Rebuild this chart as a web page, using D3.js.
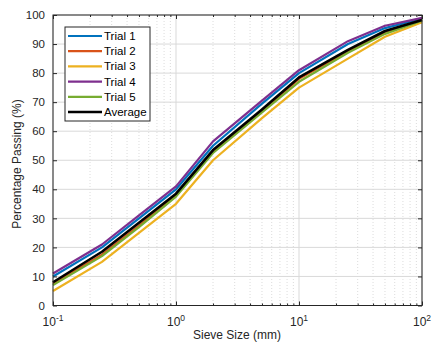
<!DOCTYPE html>
<html><head><meta charset="utf-8">
<script src="https://cdn.jsdelivr.net/npm/d3@7"></script>
<style>
body{margin:0;background:#fff;}
text{font-family:"Liberation Sans",Arial,sans-serif;}
</style></head>
<body>
<svg id="c" width="433" height="345"></svg>
<script>
const sieveSizes = [0.1, 0.25, 0.5, 1, 2, 5, 10, 25, 50, 100];
const trial1 = [10, 20, 30, 40, 55, 69.5, 80, 90, 95.5, 98.8];
const trial2 = [7.5, 17.5, 27.5, 38, 53, 67, 78, 87.5, 94, 98.3];
const trial3 = [5, 15, 25, 35, 50, 64.5, 75, 85, 92.5, 97.5];
const trial4 = [11, 21, 31, 41, 56.5, 70.5, 81, 91, 96.3, 99];
const trial5 = [7, 17, 27, 37.5, 52.5, 66.5, 77, 87, 93.5, 98];
const average = [8, 18.5, 28.5, 38.5, 53.5, 67.5, 78.5, 88, 94.5, 98.3];
const seriesNames = ["Trial 1", "Trial 2", "Trial 3", "Trial 4", "Trial 5", "Average"];
const seriesColors = ["#0072BD", "#D95319", "#EDB120", "#7E2F8E", "#77AC30", "#000000"];
const yTicks = [0,10,20,30,40,50,60,70,80,90,100];
const xTickExps = [-1, 0, 1, 2];

const allSeries = [trial1, trial2, trial3, trial4, trial5, average];
const svg = d3.select("#c");
const L = 53, R = 422, T = 15, B = 305.5;
const x = d3.scaleLog().domain([0.1, 100]).range([L, R]);
const y = d3.scaleLinear().domain([0, 100]).range([B, T]);
const txtCol = "#262626";

const g = svg.append("g");
// minor x grid
const minors = [];
for (let e = -1; e < 2; e++) for (let m = 2; m <= 9; m++) minors.push(m * Math.pow(10, e));
g.selectAll(".mg").data(minors).join("line")
  .attr("x1", d => x(d)).attr("x2", d => x(d)).attr("y1", T).attr("y2", B)
  .attr("stroke", "#dcdcdc").attr("stroke-width", 1).attr("stroke-dasharray", "1,2");
// major x grid
g.selectAll(".xg").data(xTickExps.map(e => Math.pow(10, e))).join("line")
  .attr("x1", d => x(d)).attr("x2", d => x(d)).attr("y1", T).attr("y2", B)
  .attr("stroke", "#d9d9d9").attr("stroke-width", 1);
// y grid
g.selectAll(".yg").data(yTicks).join("line")
  .attr("x1", L).attr("x2", R).attr("y1", d => y(d)).attr("y2", d => y(d))
  .attr("stroke", "#d9d9d9").attr("stroke-width", 1);

// lines
const line = d3.line().x((d, i) => x(sieveSizes[i])).y(d => y(d));
allSeries.forEach((s, k) => {
  svg.append("path").datum(s).attr("d", line).attr("fill", "none")
    .attr("stroke", seriesColors[k]).attr("stroke-width", k === 5 ? 2.6 : 2.2)
    .attr("stroke-linejoin", "round");
});

// axes box
svg.append("rect").attr("x", L).attr("y", T).attr("width", R - L).attr("height", B - T)
  .attr("fill", "none").attr("stroke", txtCol).attr("stroke-width", 1);

// ticks using d3 axes (inward)
const yAxisL = d3.axisLeft(y).tickValues(yTicks).tickSize(-4).tickPadding(8);
const yg = svg.append("g").attr("transform", `translate(${L},0)`).call(yAxisL);
yg.select(".domain").remove();
yg.selectAll("line").attr("stroke", txtCol);
yg.selectAll("text").attr("font-size", 11.5).attr("fill", txtCol).attr("font-family", "Liberation Sans, Arial, sans-serif");
const yAxisR = d3.axisRight(y).tickValues(yTicks).tickSize(-4).tickFormat("");
const yr = svg.append("g").attr("transform", `translate(${R},0)`).call(yAxisR);
yr.select(".domain").remove(); yr.selectAll("line").attr("stroke", txtCol);

const xMajor = xTickExps.map(e => Math.pow(10, e));
const xAxisB = d3.axisBottom(x).tickValues(xMajor).tickSize(-4).tickFormat("");
const xb = svg.append("g").attr("transform", `translate(0,${B})`).call(xAxisB);
xb.select(".domain").remove(); xb.selectAll("line").attr("stroke", txtCol);
const xMinB = d3.axisBottom(x).tickValues(minors).tickSize(-2).tickFormat("");
const xbm = svg.append("g").attr("transform", `translate(0,${B})`).call(xMinB);
xbm.select(".domain").remove(); xbm.selectAll("line").attr("stroke", txtCol);
const xAxisT = d3.axisTop(x).tickValues(xMajor).tickSize(-4).tickFormat("");
const xt = svg.append("g").attr("transform", `translate(0,${T})`).call(xAxisT);
xt.select(".domain").remove(); xt.selectAll("line").attr("stroke", txtCol);
const xMinT = d3.axisTop(x).tickValues(minors).tickSize(-2).tickFormat("");
const xtm = svg.append("g").attr("transform", `translate(0,${T})`).call(xMinT);
xtm.select(".domain").remove(); xtm.selectAll("line").attr("stroke", txtCol);

// x tick labels with superscripts
xTickExps.forEach(e => {
  const t = svg.append("text").attr("x", x(Math.pow(10, e))).attr("y", 326)
    .attr("text-anchor", "middle").attr("font-size", 12).attr("fill", txtCol);
  t.append("tspan").text("10");
  t.append("tspan").attr("dy", -5).attr("font-size", 8.5).text(String(e));
});

// axis labels
svg.append("text").attr("x", 237).attr("y", 339).attr("text-anchor", "middle")
  .attr("font-size", 12).attr("fill", txtCol).text("Sieve Size (mm)");
svg.append("text").attr("transform", `translate(21,164) rotate(-90)`)
  .attr("text-anchor", "middle").attr("font-size", 12).attr("fill", txtCol).text("Percentage Passing (%)");

// legend
const lg = svg.append("g");
lg.append("rect").attr("x", 65).attr("y", 27).attr("width", 85).attr("height", 94)
  .attr("fill", "#fff").attr("stroke", txtCol).attr("stroke-width", 1);
seriesNames.forEach((n, i) => {
  const yy = 36 + i * 15.2;
  lg.append("line").attr("x1", 68).attr("x2", 102).attr("y1", yy).attr("y2", yy)
    .attr("stroke", seriesColors[i]).attr("stroke-width", i === 5 ? 2.6 : 2.2);
  lg.append("text").attr("x", 104).attr("y", yy + 4).attr("font-size", 11.5)
    .attr("fill", "#000").text(n);
});
</script>
</body></html>
